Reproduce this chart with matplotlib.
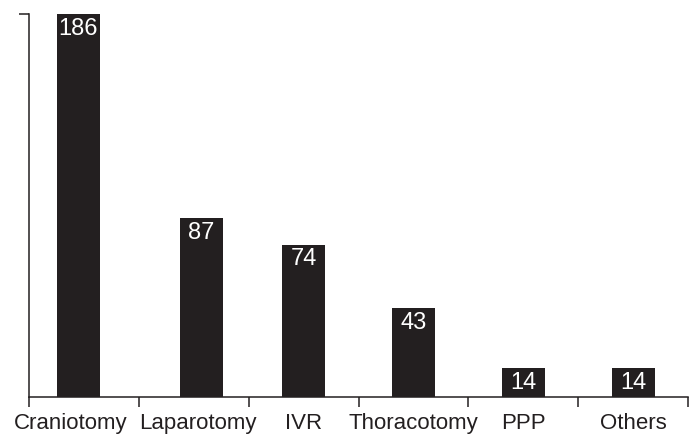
import matplotlib

matplotlib.use("Agg")
import matplotlib.pyplot as plt  # noqa: E402
import numpy as np  # noqa: E402

plt.rcParams["font.family"] = ["Liberation Sans", "DejaVu Sans"]

categories = ["Craniotomy", "Laparotomy", "IVR", "Thoracotomy", "PPP", "Others"]
counts = [186, 87, 74, 43, 14, 14]

# small hand-placement nudges seen in the original layout (fraction of a slot)
bar_nudge = [-0.05, 0.07, 0.0, 0.0, 0.0, 0.0]
label_nudge = [-0.12, 0.035, 0.0, 0.0, 0.0, 0.0]

BAR = "#231f20"
INK = "#231f20"

fig = plt.figure(figsize=(6.94, 4.35), dpi=100)
ax = fig.add_axes([29 / 694, 1 - 398 / 435, (688 - 29) / 694, (398 - 15) / 435])

slots = np.arange(len(categories))
bars = ax.bar(slots + np.array(bar_nudge), counts, width=0.39, color=BAR, zorder=2)

for b, v in zip(bars, counts):
    ax.annotate(str(v), xy=(b.get_x() + b.get_width() / 2, v), xytext=(0, -2),
                textcoords="offset points", ha="center", va="top",
                color="white", fontsize=17)

ax.set_xlim(-0.5, len(categories) - 0.5)
ax.set_ylim(0, max(counts))

# category labels sit under the slot centres; slot borders carry the tick marks
ax.set_xticks(slots + np.array(label_nudge))
ax.set_xticklabels(categories, fontsize=16, color=INK)
ax.tick_params(axis="x", which="major", length=0, pad=11)
ax.set_xticks(np.arange(len(categories) + 1) - 0.5, minor=True)
ax.tick_params(axis="x", which="minor", length=7, width=1.1, color=INK, direction="out")

ax.set_yticks([max(counts)])
ax.set_yticklabels([])
ax.tick_params(axis="y", length=7, width=1.1, color=INK, direction="out")

for side in ("top", "right"):
    ax.spines[side].set_visible(False)
for side in ("left", "bottom"):
    ax.spines[side].set_linewidth(1.1)
    ax.spines[side].set_color(INK)

fig.savefig("out.png", dpi=100, facecolor="white")
